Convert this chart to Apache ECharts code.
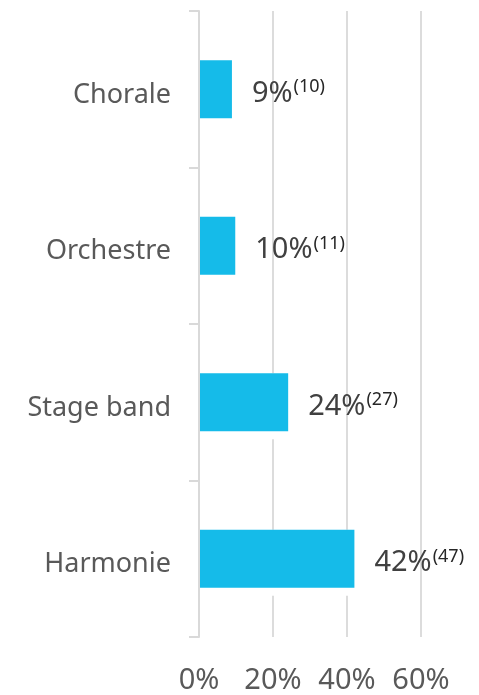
<!DOCTYPE html>
<html>
<head>
<meta charset="utf-8">
<script src="https://cdn.jsdelivr.net/npm/echarts@6/dist/echarts.min.js"></script>
<style>
html,body{margin:0;padding:0;background:#fff;}
#chart{width:479px;height:695px;}
</style>
</head>
<body>
<div id="chart"></div>
<script>
const categories = ['Chorale', 'Orchestre', 'Stage band', 'Harmonie'];
const percentValues = [8.9, 9.8, 24.1, 42.0];
const counts = [10, 11, 27, 47];
const xTicks = [0, 20, 40, 60];

const FONT = '"Noto Sans", sans-serif';
const chart = echarts.init(document.getElementById('chart'));
chart.setOption({
  animation: false,
  backgroundColor: '#ffffff',
  textStyle: { fontFamily: FONT },
  grid: { left: 199, right: 58, top: 11, bottom: 56, containLabel: false },
  xAxis: {
    type: 'value',
    min: xTicks[0],
    max: xTicks[xTicks.length - 1],
    interval: 20,
    axisLine: { show: false },
    axisTick: { show: false },
    splitLine: { show: true, lineStyle: { color: '#dcdcdc', width: 2 } },
    axisLabel: {
      formatter: v => v + '%',
      color: '#595959',
      fontSize: 29,
      fontFamily: FONT,
      margin: 29
    }
  },
  yAxis: {
    type: 'category',
    data: categories,
    inverse: true,
    z: 5,
    axisLine: { show: true, lineStyle: { color: '#d9d9d9', width: 2 } },
    axisTick: { show: true, length: 10, lineStyle: { color: '#d9d9d9', width: 2 } },
    axisLabel: {
      margin: 28,
      formatter: v => '{c|' + v + '}',
      rich: {
        c: { color: '#595959', fontSize: 27, fontFamily: FONT, lineHeight: 34, padding: [12, 0, 0, 0] }
      }
    }
  },
  series: [
    {
      type: 'bar',
      data: percentValues,
      barWidth: 66,
      barGap: '-100%',
      itemStyle: { color: '#ffffff' },
      silent: true,
      z: 1
    },
    {
      type: 'bar',
      data: percentValues,
      barWidth: 58,
      itemStyle: { color: '#15BBE9' },
      z: 2,
      label: {
        show: true,
        position: 'right',
        distance: 20,
        formatter: p => '{a|' + Math.round(p.value) + '%}{b|(' + counts[p.dataIndex] + ')}',
        rich: {
          a: { fontSize: 29, color: '#404040', fontFamily: FONT, lineHeight: 36, padding: [8, 0, 0, 0] },
          b: { fontSize: 18, color: '#262626', fontFamily: FONT, verticalAlign: 'top', lineHeight: 22, padding: [7, 0, 0, 1] }
        }
      }
    }
  ]
});
</script>
</body>
</html>
